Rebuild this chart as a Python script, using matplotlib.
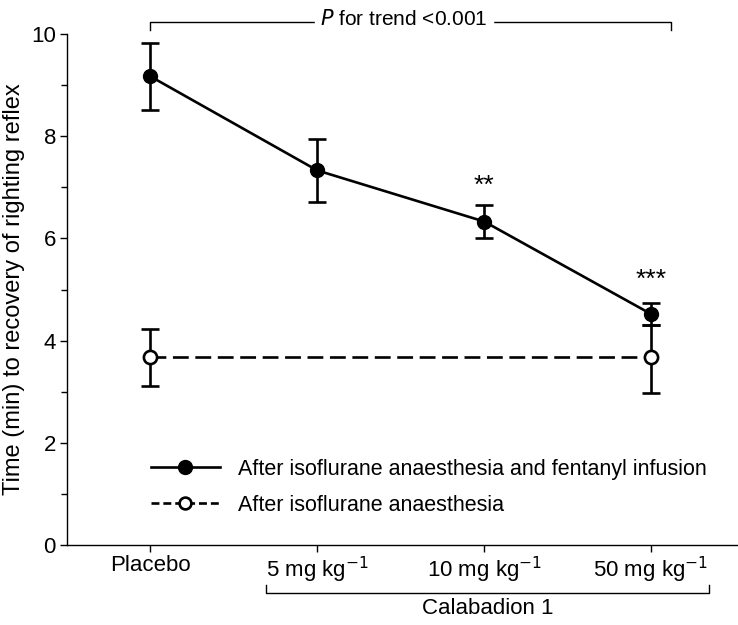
import matplotlib
matplotlib.use("Agg")
import matplotlib.pyplot as plt
from matplotlib.lines import Line2D
from matplotlib.ticker import MultipleLocator

plt.rcParams['font.family'] = ['Liberation Sans', 'DejaVu Sans']

# data
groups = ['Placebo', '5 mg kg$^{-1}$', '10 mg kg$^{-1}$', '50 mg kg$^{-1}$']
fent_mean = [9.17, 7.33, 6.33, 4.52]
fent_lo = [0.65, 0.61, 0.33, 0.21]
fent_hi = [0.65, 0.61, 0.33, 0.21]

iso_idx = [0, 3]
iso_mean = [3.67, 3.67]
iso_lo = [0.56, 0.70]
iso_hi = [0.55, 0.63]

star_idx = [2, 3]
star_txt = ['**', '***']
star_y = [7.03, 5.18]

lab_fent = 'After isoflurane anaesthesia and fentanyl infusion'
lab_iso = 'After isoflurane anaesthesia'

x = list(range(len(groups)))
lw = 1.9

fig = plt.figure(figsize=(7.38, 6.25), dpi=100)
ax = fig.add_axes([0.0908, 0.128, 0.909, 0.8176])

ax.errorbar(x, fent_mean, yerr=[fent_lo, fent_hi], color='black', lw=lw,
            marker='o', ms=10, capsize=6.5, capthick=lw, elinewidth=lw, zorder=3)
ax.errorbar(iso_idx, iso_mean, yerr=[iso_lo, iso_hi], color='black', lw=lw,
            ls=(0, (6, 2.5)), marker='o', ms=9.5, mfc='white', mec='black', mew=lw,
            capsize=6.5, capthick=lw, elinewidth=lw, zorder=3)

for i, s, yy in zip(star_idx, star_txt, star_y):
    ax.text(x[i], yy, s, ha='center', va='center', fontsize=19)

ax.set_xlim(-0.5, 3.52)
ax.set_ylim(0, 10)
ax.set_xticks(x)
ax.set_xticklabels(groups, fontsize=16)
ax.yaxis.set_major_locator(MultipleLocator(2))
ax.yaxis.set_minor_locator(MultipleLocator(1))
ax.tick_params(axis='both', which='major', direction='out', length=5, width=1,
               labelsize=16, pad=3)
ax.tick_params(axis='y', which='minor', direction='out', length=4, width=1)
ax.tick_params(axis='x', pad=2)
ax.set_ylabel('Time (min) to recovery of righting reflex', fontsize=17, labelpad=4)

for sp in ['top', 'right']:
    ax.spines[sp].set_visible(False)
for sp in ['left', 'bottom']:
    ax.spines[sp].set_linewidth(1)

# trend bracket on top
top_y, top_tick = 10.24, 10.08
ax.plot([0, 0, 3.12, 3.12], [top_tick, top_y, top_y, top_tick], color='black',
        lw=1, clip_on=False)
ax.text(1.52, top_y + 0.05, r'$\it{P}$ for trend <0.001', ha='center', va='center',
        fontsize=15, backgroundcolor='white', clip_on=False)

# Calabadion bracket below axis
br_y, br_tick = -0.93, -0.79
ax.plot([0.69, 0.69, 3.35, 3.35], [br_tick, br_y, br_y, br_tick], color='black',
        lw=1, clip_on=False)
ax.text(2.02, -1.24, 'Calabadion 1', ha='center', va='center', fontsize=16)

handles = [
    Line2D([], [], color='black', lw=lw, marker='o', ms=10),
    Line2D([], [], color='black', lw=lw, ls=(0, (3, 1.5)), marker='o', ms=8.5,
           mfc='white', mec='black', mew=lw),
]
ax.legend(handles, [lab_fent, lab_iso], loc='lower left',
          bbox_to_anchor=(0.102, 0.028), frameon=False, fontsize=15.5,
          handlelength=3.25, handletextpad=0.8, labelspacing=0.68,
          numpoints=1, borderpad=0.2)

fig.savefig('out.png', dpi=100)
